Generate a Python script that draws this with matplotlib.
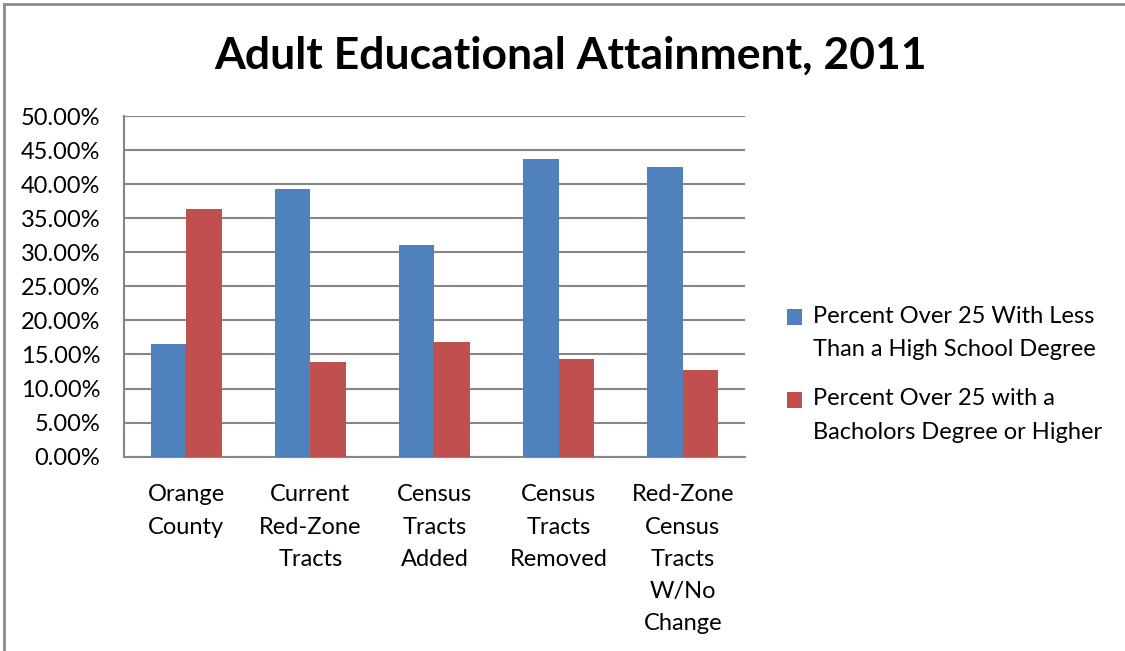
import numpy as np
import matplotlib.pyplot as plt
from matplotlib.lines import Line2D
from matplotlib.patches import Rectangle
from matplotlib.container import BarContainer
from matplotlib.legend_handler import HandlerPatch
from matplotlib.ticker import MultipleLocator, FuncFormatter

categories = ["Orange\nCounty", "Current\nRed-Zone\nTracts", "Census\nTracts\nAdded",
              "Census\nTracts\nRemoved", "Red-Zone\nCensus\nTracts\nW/No\nChange"]
less_than_hs = [16.5, 39.3, 31.1, 43.7, 42.5]
bachelors_plus = [36.4, 13.9, 16.8, 14.4, 12.7]
series_names = ["Percent Over 25 With Less\nThan a High School Degree",
                "Percent Over 25 with a\nBacholors Degree or Higher"]

plt.rcParams['font.family'] = ['Lato', 'DejaVu Sans']


def top_square(legend, orig_handle, xdescent, ydescent, width, height, fontsize):
    # put the legend key next to the first line of a two-line label
    return Rectangle((-xdescent, -ydescent + 0.68 * fontsize), width, height)


def from_first_bar(legend_patch, container):
    legend_patch.update_from(container.patches[0])


fig = plt.figure(figsize=(11.25, 6.51), dpi=100)
# chart border (only top and left edges fall inside the image)
fig.add_artist(Line2D([0.0036, 0.0036], [0, 0.9935], transform=fig.transFigure,
                      color='#8c8c8c', linewidth=2))
fig.add_artist(Line2D([0.0036, 1.0], [0.9935, 0.9935], transform=fig.transFigure,
                      color='#8c8c8c', linewidth=2))

ax = fig.add_axes([0.1102, 0.2985, 0.552, 0.5233])

x = np.arange(len(categories))
w = 0.2857
ax.bar(x - w/2, less_than_hs, w, color='#4f81bd', label=series_names[0], zorder=3)
ax.bar(x + w/2, bachelors_plus, w, color='#c0504d', label=series_names[1], zorder=3)

ax.set_xlim(-0.5, len(categories) - 0.5)
ax.set_ylim(0, 50)
ax.yaxis.set_major_locator(MultipleLocator(5))
ax.yaxis.set_major_formatter(FuncFormatter(lambda v, p: f"{v:.2f}%"))
ax.grid(axis='y', color='#868686', linewidth=1.5, zorder=0)

for s in ['top', 'right']:
    ax.spines[s].set_visible(False)
for s in ['left', 'bottom']:
    ax.spines[s].set_color('#868686')
    ax.spines[s].set_linewidth(1.5)

ax.set_xticks(x)
ax.set_xticklabels(categories, fontsize=17, linespacing=1.66)
ax.tick_params(axis='x', length=0, pad=20)
ax.tick_params(axis='y', length=0, labelsize=17, pad=17)

fig.text(0.507, 0.915, "Adult Educational Attainment, 2011", ha='center', va='center',
         fontsize=32, fontweight='bold')

leg = ax.legend(loc='center left', bbox_to_anchor=(0.681, 0.425), bbox_transform=fig.transFigure,
                frameon=False, fontsize=17, handlelength=0.64, handleheight=0.64,
                handletextpad=0.45, labelspacing=1.2,
                handler_map={BarContainer: HandlerPatch(patch_func=top_square,
                                                        update_func=from_first_bar)})
for t in leg.get_texts():
    t.set_linespacing(1.72)

fig.savefig("out.png", dpi=100)
